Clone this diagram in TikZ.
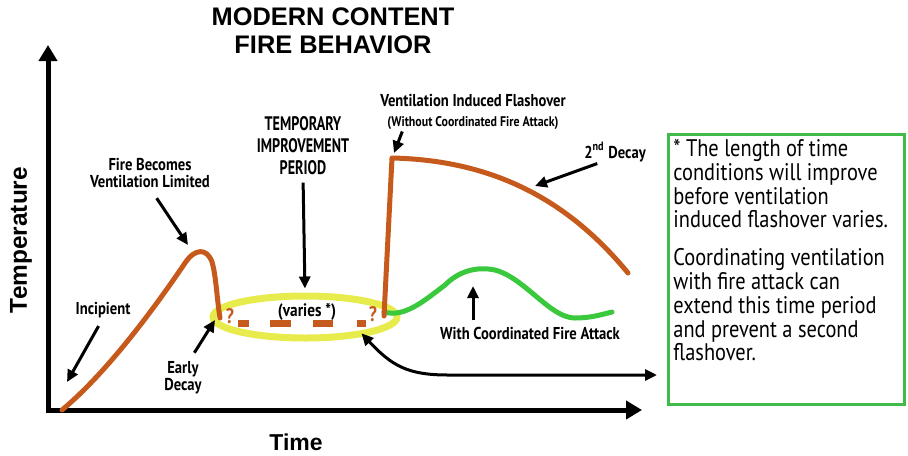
\documentclass[tikz,border=0pt]{standalone}
\usepackage{fontspec}
\setmainfont{Liberation Sans}
\newfontfamily\lblfont[FakeStretch=0.85]{PT Sans}
\newfontfamily\capfont[FakeStretch=0.72]{PT Sans}
\usetikzlibrary{arrows.meta,shapes.geometric}

\definecolor{burnt}{RGB}{197,90,28}
\definecolor{calmgreen}{RGB}{58,201,60}
\definecolor{boxgreen}{RGB}{64,186,72}
\definecolor{haloyellow}{RGB}{231,236,76}

\tikzset{
  axis/.style={line width=2.5pt, line join=miter,
    {Triangle[length=8pt,width=9pt]}-{Triangle[length=8pt,width=9pt]}},
  lblarrow/.style={line width=1.5pt, -{Triangle[length=6pt,width=5.5pt]}},
  heading/.style={font=\bfseries\fontsize{12.7}{14}\selectfont, align=center, inner sep=0pt},
  lbl/.style={font=\lblfont\bfseries\fontsize{8.6}{8.6}\selectfont, align=center, inner sep=0pt},
  caplbl/.style={font=\capfont\bfseries\fontsize{9.8}{11}\selectfont, align=center, inner sep=0pt},
  qmark/.style={font=\lblfont\bfseries\fontsize{10.5}{10.5}\selectfont, text=burnt, inner sep=0pt},
  fireline/.style={burnt, line width=2.5pt, line cap=round, line join=round},
  halo/.style={ellipse, draw=haloyellow, line width=3.5pt, minimum width=92pt,
    minimum height=21pt, inner sep=0pt},
  notebox/.style={draw=boxgreen, line width=1.6pt, minimum width=118pt,
    minimum height=135pt, inner sep=0pt},
}

\begin{document}
\begin{tikzpicture}[x=0.5pt,y=-0.5pt]
\useasboundingbox (0,0) rectangle (908,455);

% title and axes
\node[heading] (title) at (333,31) {MODERN CONTENT\\FIRE BEHAVIOR};
\coordinate (origin) at (48,410);
\coordinate (ytop) at (48,45);
\coordinate (xend) at (642,410);
\draw[axis] (ytop) -- (origin) -- (xend);
\node[font=\bfseries\fontsize{12.2}{12.2}\selectfont, rotate=90] (templbl) at (21,240) {Temperature};
\node[font=\bfseries\fontsize{11.5}{11.5}\selectfont] (timelbl) at (296,442) {Time};

% improvement period
\node[halo] (period) at (305,317) {};
\foreach \a/\b in {238/249, 270/291, 313/333, 357/366}
  \draw[burnt, line width=3.5pt] (\a,323) -- (\b,323);
\node[qmark] (qleft) at (230,316) {?};
\node[qmark] (qright) at (373,314) {?};
\node[lbl, font=\lblfont\bfseries\fontsize{9}{9}\selectfont] (varies) at (307,312) {(varies *)};

% curves
\draw[calmgreen, line width=2.5pt, line cap=round]
  (384,312) .. controls (405,318) and (425,300) .. (445,285)
  .. controls (458,272) and (475,266) .. (495,270)
  .. controls (525,278) and (550,318) .. (575,318)
  .. controls (590,318) and (600,315) .. (612,312);
\draw[fireline] (62,410) .. controls (110,370) and (160,300) .. (185,263)
  .. controls (195,248) and (207,248) .. (212,262)
  .. controls (216,275) and (217,300) .. (220,318);
\draw[fireline] (384,316) -- (392,158)
  .. controls (480,160) and (560,190) .. (628,273);

% labels
\node[lbl] (incip) at (103,310) {Incipient};
\node[lbl] (fbv) at (150,173) {Fire Becomes\\Ventilation Limited};
\node[lbl] (early) at (183,378) {Early\\Decay};
\node[caplbl] (temp) at (303,146) {TEMPORARY\\IMPROVEMENT\\PERIOD};
\node[lbl] (vif) at (473,112) {Ventilation Induced Flashover\\[1pt]
  {\fontsize{7}{7}\selectfont(Without Coordinated Fire Attack)}};
\node[lbl] (decay2) at (615,152) {2\textsuperscript{nd} Decay};
\node[lbl] (wcfa) at (530,333) {With Coordinated Fire Attack};

% arrow targets
\coordinate (incipTip) at (67,382);
\coordinate (peakTip) at (188,245);
\coordinate (earlyTip) at (215,320);
\coordinate (flashTip) at (394,153);
\coordinate (decayTip) at (535,186);
\coordinate (calmTip) at (473,286);
\coordinate (noteIn) at (657,375);

\draw[lblarrow, shorten <=4.5pt] (incip.south) -- (incipTip);
\draw[lblarrow, shorten <=6pt] (fbv.south) -- (peakTip);
\draw[lblarrow, shorten <=5pt] ([xshift=3pt]early.north) -- (earlyTip);
\draw[lblarrow, shorten <=3.5pt, shorten >=2pt] (temp.south) -- (period.north);
\draw[lblarrow, shorten <=1pt] ([xshift=-35pt]vif.south) -- (flashTip);
\draw[lblarrow, shorten <=2pt] ([xshift=-7pt]decay2.south) -- (decayTip);
\draw[lblarrow, shorten <=3pt] ([xshift=-28.5pt]wcfa.north) -- (calmTip);

% note
\node[notebox, anchor=north west] (note) at (667,133) {};
\node[font=\lblfont\fontsize{12}{11.9}\selectfont, align=left, inner sep=0pt,
  anchor=north west] (notetxt) at ([xshift=3pt,yshift=-3pt]note.north west)
  {* The length of time\\conditions will improve\\before ventilation\\induced flashover varies.\\[7pt]
   Coordinating ventilation\\with fire attack can\\extend this time period\\and prevent a second\\flashover.};
\draw[line width=1.5pt, {Triangle[length=6pt,width=5.5pt]}-{Triangle[length=6pt,width=5.5pt]},
  shorten <=-2pt]
  (period.-18) .. controls (392,366) and (408,375) .. (448,375) -- (noteIn);
\end{tikzpicture}
\end{document}
